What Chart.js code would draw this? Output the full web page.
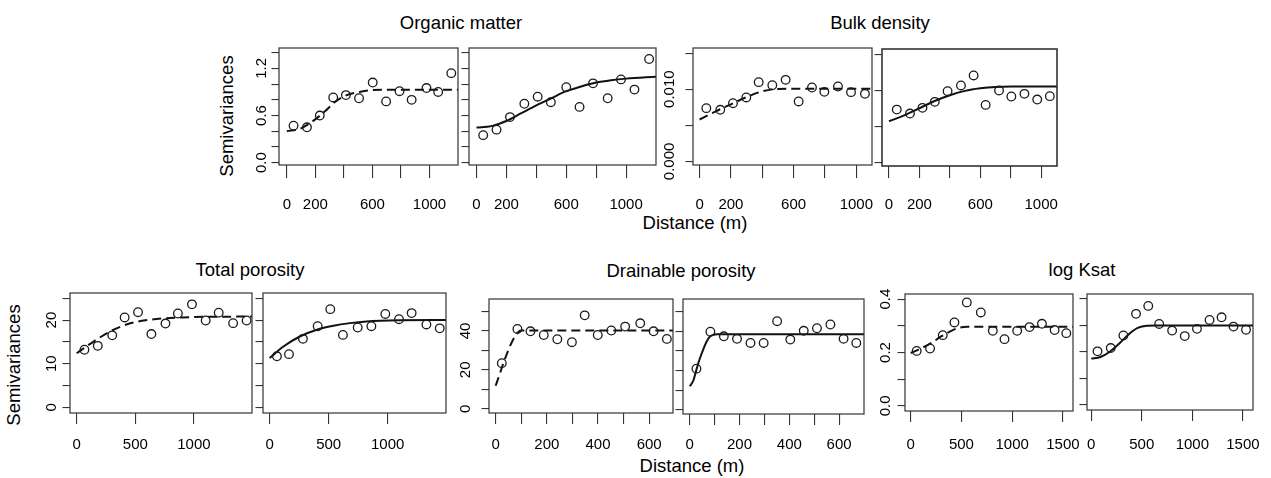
<!DOCTYPE html>
<html>
<head>
<meta charset="utf-8">
<script src="https://cdn.jsdelivr.net/npm/chart.js@4.4.1/dist/chart.umd.min.js"></script>
<style>
  body { margin: 0; background: #fff; width: 1271px; height: 478px; overflow: hidden; position: relative;
         font-family: "Liberation Sans", Arial, Helvetica, sans-serif; color: #000; }
  canvas { position: absolute; }
  .t { position: absolute; font-size: 18.5px; line-height: 1; white-space: nowrap; transform: translateX(-50%); }
  .v { position: absolute; font-size: 18.5px; line-height: 1; white-space: nowrap; transform: translate(-50%, -50%) rotate(-90deg); }
</style>
</head>
<body>
<div class="t" style="left:461px;top:14px">Organic matter</div>
<div class="t" style="left:880px;top:14px">Bulk density</div>
<div class="t" style="left:250px;top:261px">Total porosity</div>
<div class="t" style="left:681px;top:262px">Drainable porosity</div>
<div class="t" style="left:1082px;top:261px">log Ksat</div>
<div class="t" style="left:695px;top:214px">Distance (m)</div>
<div class="t" style="left:692px;top:457px">Distance (m)</div>
<div class="v" style="left:227px;top:116px">Semivariances</div>
<div class="v" style="left:14px;top:365px">Semivariances</div>

<script>
// Organic matter (A = dashed fit, B = solid fit)
const omLagA = [47, 141, 231, 325, 414, 506, 602, 696, 790, 875, 979, 1061, 1153];
const omGamA = [0.47, 0.45, 0.60, 0.83, 0.86, 0.82, 1.02, 0.78, 0.91, 0.80, 0.95, 0.90, 1.14];
const omFitDistA = [0, 90, 160, 265, 335, 420, 510, 585, 700, 1200];
const omFitA = [0.40, 0.43, 0.50, 0.65, 0.77, 0.86, 0.90, 0.922, 0.928, 0.928];
const omLagB = [45, 134, 224, 320, 409, 497, 600, 689, 779, 877, 966, 1056, 1154];
const omGamB = [0.35, 0.42, 0.58, 0.75, 0.84, 0.77, 0.96, 0.71, 1.01, 0.82, 1.06, 0.93, 1.32];
const omFitDistB = [0, 100, 200, 300, 400, 500, 600, 700, 800, 900, 1000, 1200];
const omFitB = [0.447, 0.465, 0.53, 0.63, 0.73, 0.82, 0.91, 0.97, 1.02, 1.05, 1.07, 1.095];

// Bulk density
const bdLagA = [43, 132, 213, 298, 377, 464, 549, 632, 717, 796, 883, 966, 1055];
const bdGamA = [0.00737, 0.00714, 0.00806, 0.00885, 0.01097, 0.01055, 0.01129, 0.0083, 0.01023, 0.00963, 0.01037, 0.00959, 0.00935];
const bdFitDistA = [0, 100, 200, 300, 400, 500, 600, 1100];
const bdFitA = [0.0058, 0.0069, 0.0079, 0.0089, 0.0097, 0.01003, 0.01005, 0.01005];
const bdLagB = [51, 138, 220, 301, 385, 473, 556, 635, 723, 804, 890, 974, 1057];
const bdGamB = [0.00731, 0.00676, 0.00755, 0.00838, 0.00986, 0.01065, 0.01204, 0.00796, 0.00995, 0.00912, 0.00949, 0.0087, 0.00917];
const bdFitDistB = [0, 100, 200, 300, 400, 500, 600, 700, 800, 1104];
const bdFitB = [0.0057, 0.0065, 0.0075, 0.0085, 0.0093, 0.0099, 0.01025, 0.01045, 0.0105, 0.0105];

// Total porosity
const tpLagA = [66, 180, 303, 409, 523, 637, 757, 863, 983, 1100, 1211, 1334, 1449];
const tpGamA = [13.2, 14.1, 16.5, 20.6, 21.8, 16.8, 19.2, 21.5, 23.6, 19.9, 21.7, 19.3, 19.9];
const tpFitDistA = [0, 150, 300, 450, 600, 750, 900, 1100, 1495];
const tpFitA = [12.4, 15.2, 17.6, 19.2, 20.0, 20.4, 20.6, 20.75, 20.8];
const tpLagB = [62, 164, 282, 407, 514, 621, 746, 862, 980, 1096, 1203, 1328, 1441];
const tpGamB = [11.7, 12.2, 15.7, 18.6, 22.5, 16.6, 18.3, 18.6, 21.4, 20.2, 21.6, 19.0, 18.1];
const tpFitDistB = [0, 120, 260, 400, 540, 680, 820, 1100, 1494];
const tpFitB = [11.3, 14.0, 16.3, 17.8, 18.7, 19.3, 19.7, 19.95, 20.0];

// Drainable porosity
const dpLagA = [24, 85, 136, 188, 241, 298, 348, 399, 452, 506, 565, 617, 669];
const dpGamA = [23.4, 41.0, 39.8, 37.9, 35.7, 34.2, 48.0, 37.9, 40.2, 42.2, 43.9, 39.8, 35.9];
const dpFitDistA = [0, 15, 30, 45, 60, 75, 90, 100, 693];
const dpFitA = [11.8, 17.5, 23.3, 28.6, 33.3, 37.1, 39.6, 40.2, 40.2];
const dpLagB = [27, 83, 137, 190, 244, 297, 351, 404, 458, 511, 565, 618, 669];
const dpGamB = [20.9, 39.7, 37.4, 36.1, 34.0, 34.0, 45.1, 35.7, 40.2, 41.5, 43.4, 36.1, 34.0];
const dpFitDistB = [0, 15, 27, 40, 54, 67, 80, 95, 110, 700];
const dpFitB = [11.9, 15.0, 20.4, 25.8, 30.6, 34.5, 37.1, 38.2, 38.5, 38.5];

// log Ksat
const lkLagA = [59, 191, 316, 431, 553, 691, 809, 924, 1049, 1171, 1293, 1418, 1533];
const lkGamA = [0.206, 0.215, 0.265, 0.3125, 0.3875, 0.35, 0.281, 0.25, 0.281, 0.295, 0.3075, 0.284, 0.2725];
const lkFitDistA = [0, 100, 200, 300, 400, 480, 560, 1599];
const lkFitA = [0.198, 0.215, 0.235, 0.26, 0.281, 0.293, 0.296, 0.296];
const lkLagB = [62, 193, 318, 443, 564, 672, 800, 925, 1046, 1170, 1289, 1407, 1531];
const lkGamB = [0.2025, 0.215, 0.2625, 0.344, 0.374, 0.306, 0.281, 0.26, 0.2875, 0.321, 0.331, 0.296, 0.284];
const lkFitDistB = [0, 90, 190, 290, 380, 460, 550, 650, 1600];
const lkFitB = [0.175, 0.181, 0.203, 0.237, 0.27, 0.291, 0.299, 0.3, 0.3];

// tick values and labels
const omTicksX = [0, 200, 400, 600, 800, 1000];
const omLabelsX = ['0', '200', '', '600', '', '1000'];
const omTicksY = [0, 0.2, 0.4, 0.6, 0.8, 1.0, 1.2, 1.4];
const omLabelsY = ['0.0', '', '', '0.6', '', '', '1.2', ''];
const bdTicksX = [0, 200, 400, 600, 800, 1000];
const bdLabelsX = ['0', '200', '', '600', '', '1000'];
const bdTicksY = [0, 0.005, 0.010, 0.015];
const bdLabelsY = ['0.000', '', '0.010', ''];
const tpTicksX = [0, 500, 1000];
const tpLabelsX = ['0', '500', '1000'];
const tpTicksY = [0, 5, 10, 15, 20, 25];
const tpLabelsY = ['0', '', '10', '', '20', ''];
const dpTicksX = [0, 100, 200, 300, 400, 500, 600];
const dpLabelsX = ['0', '', '200', '', '400', '', '600'];
const dpTicksY = [0, 10, 20, 30, 40, 50];
const dpLabelsY = ['0', '', '20', '', '40', ''];
const lkTicksX = [0, 500, 1000, 1500];
const lkLabelsX = ['0', '500', '1000', '1500'];
const lkTicksY = [0, 0.1, 0.2, 0.3, 0.4];
const lkLabelsY = ['0.0', '', '0.2', '', '0.4'];

const FONT = '"Liberation Sans", Arial, Helvetica, sans-serif';
const PAD_L = 45, PAD_T = 10, PAD_R = 45, PAD_B = 55;

const pairs = (xs, ys) => xs.map((x, i) => ({ x: x, y: ys[i] }));

// panel placement: box = [left, top, right, bottom] of the plotting frame
const panels = [
  { box: [279, 48, 458, 165], xr: [-55, 1200], yr: [-0.03, 1.46], lag: omLagA, gam: omGamA, fd: omFitDistA, fv: omFitA, dash: true,
    tx: omTicksX, lx: omLabelsX, ty: omTicksY, ly: omLabelsY, showY: true, ylab: -17.5, tl: 13, pad: 18 },
  { box: [469, 48, 656, 165], xr: [-50, 1200], yr: [-0.03, 1.46], lag: omLagB, gam: omGamB, fd: omFitDistB, fv: omFitB, dash: false,
    tx: omTicksX, lx: omLabelsX, ty: omTicksY, ly: omLabelsY, showY: false, tl: 13, pad: 18 },
  { box: [693, 48, 872, 165], xr: [-42, 1100], yr: [-0.0005, 0.0157], lag: bdLagA, gam: bdGamA, fd: bdFitDistA, fv: bdFitA, dash: true,
    tx: bdTicksX, lx: bdLabelsX, ty: bdTicksY, ly: bdLabelsY, showY: true, ylab: -23, tl: 13, pad: 18 },
  { box: [882, 49, 1057, 166], xr: [-46, 1104], yr: [-0.0005, 0.0157], lag: bdLagB, gam: bdGamB, fd: bdFitDistB, fv: bdFitB, dash: false,
    tx: bdTicksX, lx: bdLabelsX, ty: bdTicksY, ly: bdLabelsY, showY: false, tl: 12, pad: 18, frame: 1.6 },
  { box: [70, 293, 252, 413], xr: [-57, 1495], yr: [-1.28, 26.2], lag: tpLagA, gam: tpGamA, fd: tpFitDistA, fv: tpFitA, dash: true,
    tx: tpTicksX, lx: tpLabelsX, ty: tpTicksY, ly: tpLabelsY, showY: true, ylab: -18.5, tl: 11, pad: 12 },
  { box: [263, 293, 446, 413], xr: [-56, 1494], yr: [-1.28, 26.2], lag: tpLagB, gam: tpGamB, fd: tpFitDistB, fv: tpFitB, dash: false,
    tx: tpTicksX, lx: tpLabelsX, ty: tpTicksY, ly: tpLabelsY, showY: false, tl: 11, pad: 12 },
  { box: [489, 299, 673, 413], xr: [-26, 693], yr: [-2.2, 56.4], lag: dpLagA, gam: dpGamA, fd: dpFitDistA, fv: dpFitA, dash: true,
    tx: dpTicksX, lx: dpLabelsX, ty: dpTicksY, ly: dpLabelsY, showY: true, ylab: -23, tl: 11, pad: 12 },
  { box: [683, 299, 864, 414], xr: [-27, 700], yr: [-2.2, 56.4], lag: dpLagB, gam: dpGamB, fd: dpFitDistB, fv: dpFitB, dash: false,
    tx: dpTicksX, lx: dpLabelsX, ty: dpTicksY, ly: dpLabelsY, showY: false, tl: 11, pad: 11 },
  { box: [905, 294, 1073, 411], xr: [-56, 1599], yr: [-0.019, 0.419], lag: lkLagA, gam: lkGamA, fd: lkFitDistA, fv: lkFitA, dash: true,
    tx: lkTicksX, lx: lkLabelsX, ty: lkTicksY, ly: lkLabelsY, showY: true, ylab: -19, tl: 11, pad: 14 },
  { box: [1087, 294, 1253, 410], xr: [-42, 1600], yr: [-0.019, 0.419], lag: lkLagB, gam: lkGamB, fd: lkFitDistB, fv: lkFitB, dash: false,
    tx: lkTicksX, lx: lkLabelsX, ty: lkTicksY, ly: lkLabelsY, showY: false, tl: 11, pad: 15 }
];

// frame around the plotting area and rotated y tick labels (R style)
const framePlugin = {
  id: 'frame',
  afterDraw(chart) {
    const { ctx, chartArea: a } = chart;
    const p = chart.$panel;
    ctx.save();
    ctx.strokeStyle = '#333';
    ctx.lineWidth = p.frame || 1.2;
    ctx.strokeRect(a.left, a.top, a.right - a.left, a.bottom - a.top);
    if (p.showY) {
      const ys = chart.scales.y;
      ctx.fillStyle = '#000';
      ctx.font = '15px ' + FONT;
      ctx.textAlign = 'center';
      ctx.textBaseline = 'middle';
      ys.ticks.forEach((t, i) => {
        const lab = p.ly[i];
        if (!lab) return;
        ctx.save();
        ctx.translate(a.left + p.ylab, ys.getPixelForValue(t.value));
        ctx.rotate(-Math.PI / 2);
        ctx.fillText(lab, 0, 0);
        ctx.restore();
      });
    }
    ctx.restore();
  }
};

panels.forEach(p => {
  const [l, t, r, b] = p.box;
  const cv = document.createElement('canvas');
  cv.width = (r - l) + PAD_L + PAD_R;
  cv.height = (b - t) + PAD_T + PAD_B;
  cv.style.left = (l - PAD_L) + 'px';
  cv.style.top = (t - PAD_T) + 'px';
  cv.style.width = cv.width + 'px';
  cv.style.height = cv.height + 'px';
  document.body.appendChild(cv);

  new Chart(cv.getContext('2d'), {
    type: 'scatter',
    data: {
      datasets: [
        {
          type: 'line',
          data: pairs(p.fd, p.fv),
          borderColor: '#111',
          borderWidth: 2,
          borderDash: p.dash ? [9, 5] : [],
          pointRadius: 0,
          fill: false,
          cubicInterpolationMode: 'monotone',
          order: 2
        },
        {
          data: pairs(p.lag, p.gam),
          pointStyle: 'circle',
          pointRadius: 4.3,
          borderColor: '#1a1a1a',
          borderWidth: 1.3,
          backgroundColor: 'rgba(0,0,0,0)',
          order: 1
        }
      ]
    },
    options: {
      responsive: false,
      animation: false,
      devicePixelRatio: 1,
      events: [],
      layout: { padding: { top: PAD_T, right: PAD_R, left: 0, bottom: 0 } },
      plugins: { legend: { display: false }, tooltip: { enabled: false } },
      scales: {
        x: {
          type: 'linear',
          min: p.xr[0], max: p.xr[1], bounds: 'data',
          afterBuildTicks: s => { s.ticks = p.tx.map(v => ({ value: v })); },
          afterFit: s => { s.height = PAD_B; },
          ticks: {
            autoSkip: false, maxRotation: 0, minRotation: 0, padding: p.pad,
            color: '#000', font: { family: FONT, size: 15 },
            callback: (v, i) => p.lx[i]
          },
          grid: { drawOnChartArea: false, drawTicks: true, tickLength: p.tl, color: '#333', lineWidth: 1.1 },
          border: { display: false }
        },
        y: {
          type: 'linear',
          min: p.yr[0], max: p.yr[1], bounds: 'data',
          afterBuildTicks: s => { s.ticks = p.ty.map(v => ({ value: v })); },
          afterFit: s => { s.width = PAD_L; },
          ticks: { display: false },
          grid: { drawOnChartArea: false, drawTicks: true, tickLength: 7.5, color: '#333', lineWidth: 1.1 },
          border: { display: false }
        }
      }
    },
    plugins: [{
      id: 'panelRef',
      beforeInit(c) { c.$panel = p; }
    }, framePlugin]
  });
});
</script>
</body>
</html>
